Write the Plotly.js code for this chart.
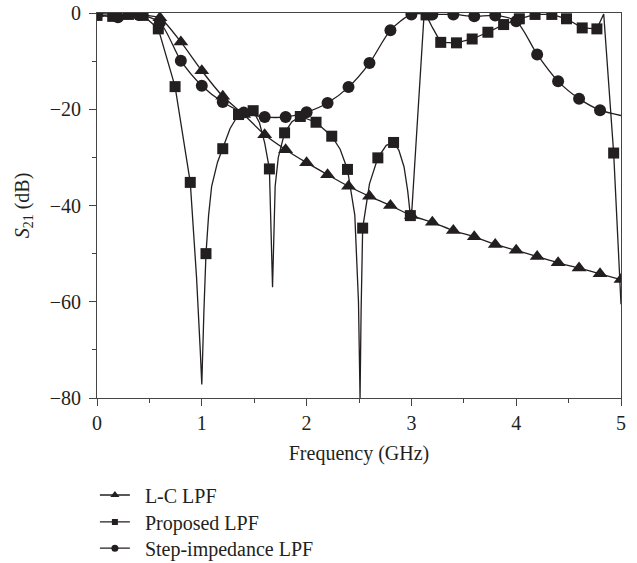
<!DOCTYPE html>
<html>
<head>
<meta charset="utf-8">
<script src="https://cdn.plot.ly/plotly-3.0.1.min.js"></script>
<style>html,body{margin:0;padding:0;background:#fff;}#chart{width:637px;height:563px;}</style>
</head>
<body>
<div id="chart"></div>
<script>
// ---- Data ----
const seriesNames = ["L-C LPF", "Proposed LPF", "Step-impedance LPF"];

// L-C LPF (triangles), smooth curve through the marked points
const lcFreq = [0,0.2,0.4,0.6,0.8,1.0,1.2,1.4,1.6,1.8,2.0,2.2,2.4,2.6,2.8,3.0,3.2,3.4,3.6,3.8,4.0,4.2,4.4,4.6,4.8,5.0];
const lcS21  = [-0.1,-0.3,-0.4,-1.0,-6.0,-12.0,-17.3,-21.1,-25.3,-28.4,-31.1,-33.6,-36.0,-38.1,-40.0,-42.1,-43.5,-45.2,-46.5,-48.1,-49.3,-50.6,-51.9,-53.0,-54.2,-55.4];

// Step-impedance LPF (circles): curve points; the last point has no marker
const stepFreq = [0,0.2,0.4,0.6,0.8,1.0,1.2,1.4,1.6,1.8,2.0,2.2,2.4,2.6,2.8,3.0,3.2,3.4,3.6,3.8,4.0,4.2,4.4,4.6,4.8,5.0];
const stepS21  = [-0.3,-0.9,-0.4,-2.0,-9.9,-15.1,-18.5,-20.7,-21.6,-21.6,-20.6,-18.7,-15.4,-10.4,-3.6,-0.3,-0.3,-0.3,-0.7,-0.5,-1.7,-8.6,-14.2,-17.8,-20.2,-21.3];
const stepMarkFreq = stepFreq.slice(0, 25);
const stepMarkS21  = stepS21.slice(0, 25);

// Proposed LPF: traced curve (with the sharp transmission zeros)
const propFreq = [0,0.15,0.3,0.44,0.585,0.745,0.89,0.95,0.985,1.0,1.02,1.04,1.065,1.094,1.15,1.2,1.27,1.35,1.49,1.55,1.6,1.645,1.675,1.70,1.73,1.79,1.86,1.94,2.09,2.24,2.32,2.39,2.46,2.495,2.51,2.52,2.535,2.6,2.68,2.76,2.83,2.88,2.93,2.965,2.99,3.0,3.12,3.14,3.2,3.28,3.43,3.58,3.73,3.88,4.03,4.18,4.34,4.48,4.63,4.77,4.835,4.93,5.0];
const propS21  = [-0.5,-0.7,-0.3,-0.5,-3.3,-15.3,-35.2,-55,-70,-77.2,-62,-50,-42,-36,-31,-28.2,-24,-21.1,-20.3,-22.8,-27,-32.4,-57,-36,-30,-24.9,-22.6,-21.5,-22.7,-25.6,-28.3,-32.5,-42,-60,-80,-62,-44.7,-35.5,-30.1,-27.5,-26.9,-28.5,-32,-37,-42.1,-42.5,-0.6,-0.4,-3,-6.1,-6.2,-5.4,-4.0,-2.4,-1.2,-0.3,-0.3,-1.2,-3.1,-3.3,-0.2,-29.1,-60.5];
// Proposed LPF: marked points
const propMarkFreq = [0,0.15,0.3,0.44,0.585,0.745,0.89,1.04,1.2,1.35,1.49,1.645,1.79,1.94,2.09,2.24,2.39,2.535,2.68,2.83,2.99,3.14,3.28,3.43,3.58,3.73,3.88,4.03,4.18,4.34,4.48,4.63,4.77,4.93];
const propMarkS21  = [-0.5,-0.7,-0.3,-0.5,-3.3,-15.3,-35.2,-50,-28.2,-21.1,-20.3,-32.4,-24.9,-21.5,-22.7,-25.6,-32.5,-44.7,-30.1,-26.9,-42.1,-0.4,-6.1,-6.2,-5.4,-4.0,-2.4,-1.2,-0.3,-0.3,-1.2,-3.1,-3.3,-29.1];

const xTitle = "Frequency (GHz)";
const yTitle = "<i>S</i><sub>21</sub> (dB)";

// ---- Styling ----
const INK = "#231f20";
const FONT = "Liberation Serif, Times New Roman, serif";
const lineStyle = {color: INK, width: 1.3};
const GAP = "\u00a0\u00a0";

const traces = [
  {x: lcFreq, y: lcS21, mode: "lines", line: Object.assign({shape: "spline", smoothing: 0.6}, lineStyle), showlegend: false, hoverinfo: "skip"},
  {x: lcFreq, y: lcS21, mode: "markers", marker: {symbol: "triangle-up", size: 13, color: INK}, showlegend: false},
  {x: propFreq, y: propS21, mode: "lines", line: lineStyle, showlegend: false, hoverinfo: "skip"},
  {x: propMarkFreq, y: propMarkS21, mode: "markers", marker: {symbol: "square", size: 11, color: INK}, showlegend: false},
  {x: stepFreq, y: stepS21, mode: "lines", line: Object.assign({shape: "spline", smoothing: 0.8}, lineStyle), showlegend: false, hoverinfo: "skip"},
  {x: stepMarkFreq, y: stepMarkS21, mode: "markers", marker: {symbol: "circle", size: 12, color: INK}, showlegend: false},
  // legend entries
  {x: [null], y: [null], name: GAP + seriesNames[0], mode: "lines+markers", line: lineStyle, marker: {symbol: "triangle-up", size: 8, color: INK}, legend: "legend"},
  {x: [null], y: [null], name: GAP + seriesNames[1], mode: "lines+markers", line: lineStyle, marker: {symbol: "square", size: 6, color: INK}, legend: "legend2"},
  {x: [null], y: [null], name: GAP + seriesNames[2], mode: "lines+markers", line: lineStyle, marker: {symbol: "circle", size: 7, color: INK}, legend: "legend3"}
];

const axisCommon = {
  showgrid: false, zeroline: false,
  showline: true, linecolor: "#444", linewidth: 1, mirror: true,
  ticks: "outside", ticklen: 7, tickwidth: 1, tickcolor: "#444",
  tickfont: {family: FONT, size: 20, color: INK},
  fixedrange: true
};

const legendCommon = {
  xanchor: "left", yanchor: "middle", bgcolor: "rgba(0,0,0,0)",
  font: {family: FONT, size: 20, color: INK}, itemwidth: 30
};

const layout = {
  width: 637, height: 563,
  margin: {l: 97, r: 16, t: 13, b: 165, autoexpand: false},
  paper_bgcolor: "#fff", plot_bgcolor: "#fff",
  xaxis: Object.assign({}, axisCommon, {
    range: [0, 5], dtick: 1, tick0: 0,
    minor: {dtick: 0.5, ticks: "outside", ticklen: 4, tickcolor: "#444"},
    title: {text: xTitle, font: {family: FONT, size: 20, color: INK}, standoff: 12}
  }),
  yaxis: Object.assign({}, axisCommon, {
    range: [-80, 0], dtick: 20, tick0: 0, ticklabelstandoff: 4,
    minor: {dtick: 10, ticks: "outside", ticklen: 4, tickcolor: "#444"},
    title: {text: yTitle, font: {family: FONT, size: 20, color: INK}, standoff: 14}
  }),
  legend: Object.assign({}, legendCommon, {x: -0.004, y: -0.252}),
  legend2: Object.assign({}, legendCommon, {x: -0.004, y: -0.322}),
  legend3: Object.assign({}, legendCommon, {x: -0.004, y: -0.390}),
  showlegend: true
};

Plotly.newPlot("chart", traces, layout, {displayModeBar: false, staticPlot: true});
</script>
</body>
</html>
